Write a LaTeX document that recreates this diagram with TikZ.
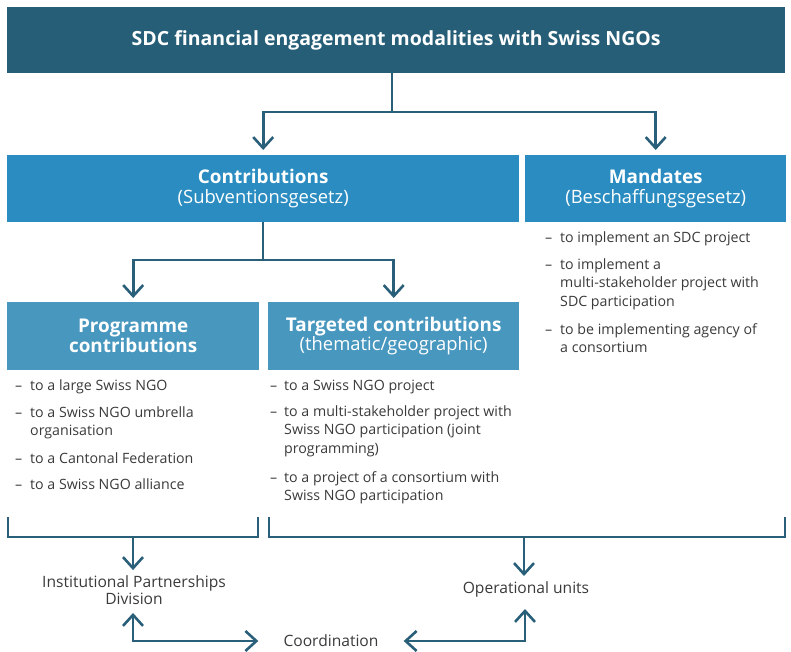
\documentclass[tikz,border=0pt]{standalone}
\usepackage{fontspec}
\setmainfont{Open Sans}
\usetikzlibrary{arrows.meta}
\definecolor{dark}{HTML}{265E78}
\definecolor{mid}{HTML}{2A8CC0}
\definecolor{light}{HTML}{4797BF}
\definecolor{lc}{HTML}{2A5F7A}
\definecolor{txt}{HTML}{3A3A3A}
\newcommand\bodyf{\fontsize{14.2}{18.7}\selectfont}
\newcommand\itm[1]{\parbox[t]{250pt}{\raggedright #1}}
\newcommand\hb[1]{{\fontsize{18.9}{20}\selectfont\bfseries #1}}
\tikzset{
  ln/.style={draw=lc, line width=2.6pt},
  arr/.style={ln, -{Straight Barb[length=11pt,width=20pt]}},
  dbl/.style={ln, {Straight Barb[length=11pt,width=20pt]}-{Straight Barb[length=11pt,width=20pt]}},
  boxn/.style={anchor=north west, inner sep=0, text=white, align=center, font=\fontsize{18.4}{19.5}\selectfont},
  dsh/.style={anchor=base west, inner sep=0, text=txt, font=\bodyf},
  litem/.style={anchor=base west, inner sep=0, text=txt, font=\bodyf},
  lbl/.style={inner sep=0, text=txt, align=center, font=\fontsize{15.6}{17.5}\selectfont},
}
\begin{document}
\begin{tikzpicture}[x=1pt,y=-1pt]
\useasboundingbox (0,0) rectangle (791,652);
% boxes
\node[boxn, fill=dark, minimum width=778pt, minimum height=66pt, font=\fontsize{19.5}{20}\selectfont\bfseries] (top) at (7,7) {SDC financial engagement modalities with Swiss NGOs};
\node[boxn, fill=mid, minimum width=512pt, minimum height=67pt] (contrib) at (7,155) {\hb{Contributions}\\(Subventionsgesetz)};
\node[boxn, fill=mid, minimum width=261pt, minimum height=67pt] (mand) at (525,155) {\hb{Mandates}\\(Beschaffungsgesetz)};
\node[boxn, fill=light, minimum width=252pt, minimum height=68pt, font=\fontsize{18.9}{20}\selectfont\bfseries] (prog) at (7,302) {Programme\\contributions};
\node[boxn, fill=light, minimum width=251pt, minimum height=68pt] (targ) at (268,302) {\hb{Targeted contributions}\\(thematic/geographic)};
% arrows from top
\coordinate (j1) at (392,112);
\draw[ln] (top.south -| j1) -- (j1);
\draw[arr, shorten >=5pt] (j1) -| (contrib.north);
\draw[arr, shorten >=5pt] (j1) -| (mand.north);
\coordinate (j2) at (263,260);
\draw[ln] (contrib.south -| j2) -- (j2);
\draw[arr, shorten >=4pt] (j2) -| (prog.north);
\draw[arr, shorten >=4pt] (j2) -| (targ.north);
% programme list
\node[dsh] (pd1) at (15,390) {–}; \node[litem] (p1) at (30,390) {\itm{to a large Swiss NGO}};
\node[dsh] (pd2) at (15,417) {–}; \node[litem] (p2) at (30,417) {\itm{to a Swiss NGO umbrella\\organisation}};
\node[dsh] (pd3) at (15,463) {–}; \node[litem] (p3) at (30,463) {\itm{to a Cantonal Federation}};
\node[dsh] (pd4) at (15,489) {–}; \node[litem] (p4) at (30,489) {\itm{to a Swiss NGO alliance}};
% targeted list
\node[dsh] (td1) at (270,390) {–}; \node[litem] (t1) at (284,390) {\itm{to a Swiss NGO project}};
\node[dsh] (td2) at (270,416) {–}; \node[litem] (t2) at (284,416) {\itm{to a multi-stakeholder project with\\Swiss NGO participation (joint\\programming)}};
\node[dsh] (td3) at (270,482) {–}; \node[litem] (t3) at (284,482) {\itm{to a project of a consortium with\\Swiss NGO participation}};
% mandates list
\node[dsh] (md1) at (545,242) {–}; \node[litem] (m1) at (560,242) {\itm{to implement an SDC project}};
\node[dsh] (md2) at (545,269) {–}; \node[litem] (m2) at (560,269) {\itm{to implement a\\multi-stakeholder project with\\SDC participation}};
\node[dsh] (md3) at (545,334) {–}; \node[litem] (m3) at (560,334) {\itm{to be implementing agency of\\a consortium}};
% brackets
\coordinate (bl1) at (8,517); \coordinate (bl2) at (258,517);
\coordinate (br1) at (269,517); \coordinate (br2) at (785,517);
\draw[ln] (bl1) |- (133,537) -| (bl2);
\draw[ln] (br1) |- (524,537) -| (br2);
% bottom labels
\node[lbl] (inst) at (134,590) {Institutional Partnerships\\Division};
\node[lbl] (op) at (526,589) {Operational units};
\node[lbl] (coord) at (331,641) {Coordination};
\draw[arr, shorten >=5pt] (133,537) -- (inst.north -| 133,0);
\draw[arr, shorten >=5pt] (524,537) -- (op.north -| 524,0);
\draw[dbl, shorten <=8pt, shorten >=25pt] (inst.south -| 133,0) |- (coord.west);
\draw[dbl, shorten <=25pt, shorten >=12pt] (coord.east) -| (op.south -| 525,0);
\end{tikzpicture}
\end{document}
